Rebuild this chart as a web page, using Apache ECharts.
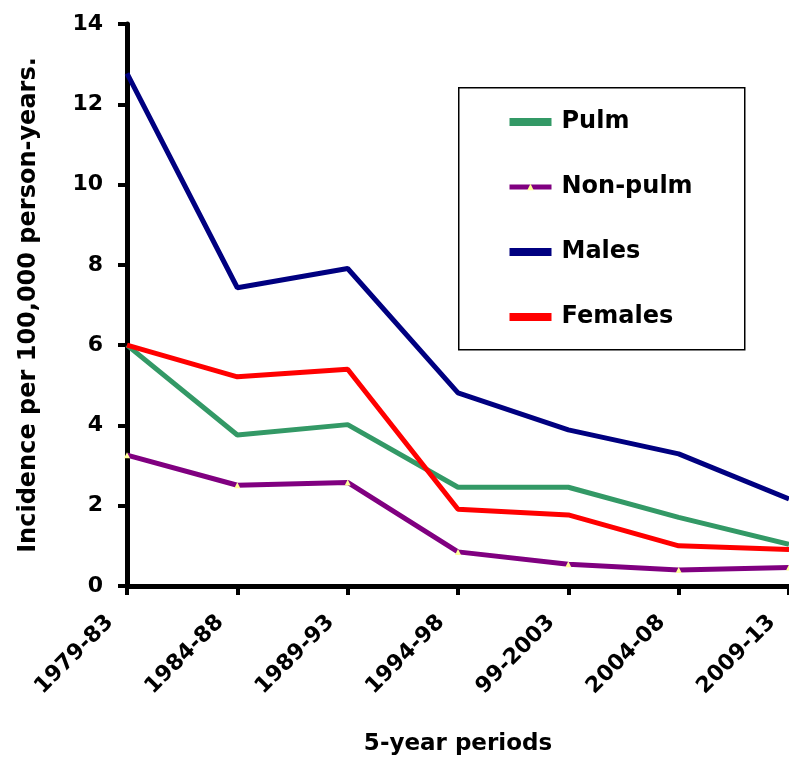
<!DOCTYPE html>
<html>
<head>
<meta charset="utf-8">
<script src="https://cdn.jsdelivr.net/npm/echarts@6/dist/echarts.min.js"></script>
<style>
html,body{margin:0;padding:0;background:#fff;}
#chart{width:789px;height:767px;}
</style>
</head>
<body>
<div id="chart"></div>
<script>
const categories = ['1979-83','1984-88','1989-93','1994-98','99-2003','2004-08','2009-13'];
const pulm    = [6.0, 3.76, 4.02, 2.46, 2.46, 1.71, 1.04];
const nonPulm = [3.26, 2.51, 2.58, 0.85, 0.54, 0.40, 0.46];
const males   = [12.77, 7.43, 7.91, 4.81, 3.89, 3.29, 2.17];
const females = [6.0, 5.21, 5.40, 1.91, 1.77, 1.0, 0.91];
const yTicks = {min: 0, max: 14, interval: 2};

const FONT = 'DejaVu Sans';
const chart = echarts.init(document.getElementById('chart'), null, {renderer: 'canvas'});

function lineSeries(name, data, color, extra) {
  return Object.assign({
    name: name,
    type: 'line',
    data: data,
    symbol: 'none',
    lineStyle: {color: color, width: 5},
    itemStyle: {color: color},
    animation: false,
    z: 3
  }, extra || {});
}

chart.setOption({
  backgroundColor: '#ffffff',
  animation: false,
  grid: {left: 127, right: -1, top: 24, bottom: 181, containLabel: false},
  xAxis: {
    type: 'category',
    data: categories,
    boundaryGap: false,
    name: '5-year periods',
    nameLocation: 'middle',
    nameGap: 147,
    nameTextStyle: {fontFamily: FONT, fontWeight: 'bold', fontSize: 23, color: '#000'},
    axisLine: {show: true, lineStyle: {color: '#000', width: 5}},
    axisTick: {show: true, alignWithLabel: true, length: 9, lineStyle: {color: '#000', width: 4}},
    axisLabel: {
      interval: 0, rotate: 45, margin: 16,
      padding: [0, 24, 0, 0],
      fontFamily: FONT, fontWeight: 'bold', fontSize: 22, color: '#000'
    },
    splitLine: {show: false}
  },
  yAxis: {
    type: 'value',
    min: yTicks.min, max: yTicks.max, interval: yTicks.interval,
    name: 'Incidence per 100,000 person-years.',
    nameLocation: 'middle',
    nameRotate: 90,
    nameGap: 86,
    nameTextStyle: {fontFamily: FONT, fontWeight: 'bold', fontSize: 24, color: '#000'},
    axisLine: {show: true, lineStyle: {color: '#000', width: 5}},
    axisTick: {show: true, length: 9, lineStyle: {color: '#000', width: 4}},
    axisLabel: {margin: 24, fontFamily: FONT, fontWeight: 'bold', fontSize: 22, color: '#000'},
    splitLine: {show: false}
  },
  legend: {
    orient: 'vertical',
    left: 507,
    top: 107,
    padding: 0,
    itemWidth: 42,
    itemHeight: 8,
    itemGap: 35,
    z: 10,
    lineStyle: {width: 5},
    textStyle: {fontFamily: FONT, fontWeight: 'bold', fontSize: 24, color: '#000', lineHeight: 30, padding: [0, 0, 0, 5]},
    data: [
      {name: 'Pulm', icon: 'rect', itemStyle: {color: '#339966'}},
      {name: 'Non-pulm'},
      {name: 'Males', icon: 'rect', itemStyle: {color: '#000080'}},
      {name: 'Females', icon: 'rect', itemStyle: {color: '#ff0000'}}
    ]
  },
  graphic: [{
    type: 'rect',
    left: 458, top: 87,
    shape: {width: 286, height: 262},
    style: {fill: '#fff', stroke: '#000', lineWidth: 1.5},
    z: 1,
    zlevel: 0
  }],
  series: [
    lineSeries('Pulm', pulm, '#339966'),
    lineSeries('Non-pulm', nonPulm, '#800080', {
      symbol: 'triangle', symbolSize: 6, showSymbol: true,
      itemStyle: {color: '#ffff99'}
    }),
    lineSeries('Males', males, '#000080'),
    lineSeries('Females', females, '#ff0000')
  ]
});
</script>
</body>
</html>
